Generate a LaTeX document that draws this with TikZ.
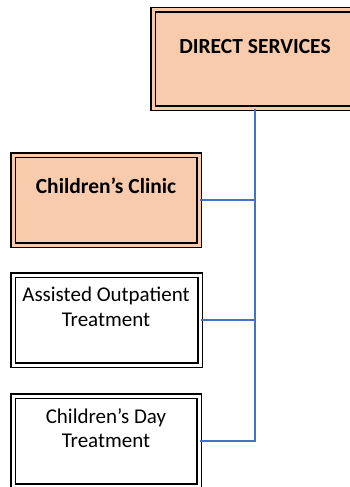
\documentclass[tikz,border=0pt]{standalone}
\usepackage{fontspec}
\setmainfont{Carlito}
\definecolor{peach}{HTML}{F8CBAD}
\definecolor{linkblue}{HTML}{4472C4}
\begin{document}
\begin{tikzpicture}[x=1pt,y=-1pt,
  box/.style={draw=black, line width=1.4pt, double distance=3pt, inner sep=0pt},
  peachbox/.style={box, fill=peach, double=peach},
  whitebox/.style={box, fill=white, double=white},
  lbl/.style={font=\fontsize{21}{24.5}\selectfont, align=center, inner sep=0pt},
  boldlbl/.style={lbl, font=\fontsize{21.5}{24.5}\selectfont\bfseries},
  link/.style={draw=linkblue, line width=1.4pt}]
\useasboundingbox (0,0) rectangle (350,487);
\clip (0,0) rectangle (350,487);
\node[peachbox, minimum width=204pt, minimum height=98pt] (top) at (255,59) {};
\node[peachbox, minimum width=186pt, minimum height=90pt] (clinic) at (106,200) {};
\node[whitebox, minimum width=187pt, minimum height=90pt] (aot) at (106.5,320) {};
\node[whitebox, minimum width=186pt, minimum height=90pt] (day) at (106,441) {};
\node[boldlbl] (toptext) at (255,47) {DIRECT SERVICES};
\node[boldlbl] (clinictext) at (106,186) {Children’s Clinic};
\node[lbl] (aottext) at (106,307) {Assisted Outpatient\\Treatment};
\node[lbl] (daytext) at (106,428) {Children’s Day\\Treatment};
\draw[link] (top.south) |- (clinic.east);
\draw[link] (top.south) |- (aot.east);
\draw[link] (top.south) |- (day.east);
\end{tikzpicture}
\end{document}
